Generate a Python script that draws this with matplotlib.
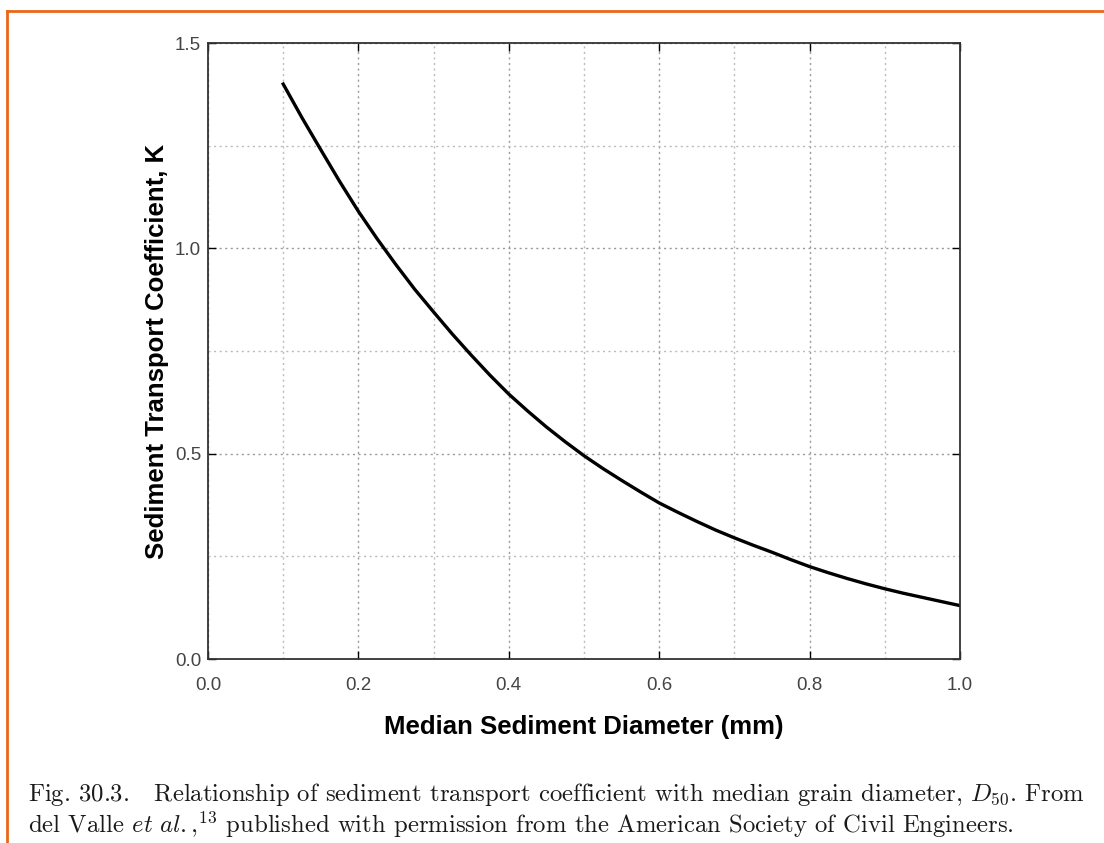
import matplotlib.pyplot as plt
from matplotlib.lines import Line2D
import numpy as np

# values
diameter = [0.100, 0.125, 0.150, 0.175, 0.200, 0.225, 0.250, 0.275, 0.300, 0.325,
            0.350, 0.375, 0.400, 0.425, 0.450, 0.475, 0.500, 0.525, 0.550, 0.575,
            0.600, 0.625, 0.650, 0.675, 0.700, 0.725, 0.750, 0.775, 0.800, 0.825,
            0.850, 0.875, 0.900, 0.925, 0.950, 0.975, 1.000]
coef_k = [1.400, 1.318, 1.240, 1.163, 1.090, 1.023, 0.960, 0.900, 0.845, 0.791,
          0.740, 0.691, 0.645, 0.604, 0.565, 0.529, 0.495, 0.464, 0.435, 0.407,
          0.380, 0.357, 0.335, 0.314, 0.295, 0.277, 0.260, 0.242, 0.225, 0.210,
          0.196, 0.183, 0.171, 0.160, 0.150, 0.140, 0.130]

x_ticks = [0.0, 0.2, 0.4, 0.6, 0.8, 1.0]
y_ticks = [0.0, 0.5, 1.0, 1.5]

plt.rcParams['font.family'] = ['Liberation Sans', 'DejaVu Sans']
plt.rcParams['mathtext.fontset'] = 'cm'

fig = plt.figure(figsize=(11.04, 8.43), dpi=100)
a = fig.add_axes([208 / 1104, 1 - 659 / 843, 752 / 1104, 616 / 843])

a.plot(diameter, coef_k, color='black', lw=2.4)
a.set_xlim(0, 1.0)
a.set_ylim(0, 1.5)
a.set_xticks(x_ticks)
a.set_yticks(y_ticks)
a.set_xticks(np.arange(0.1, 1.0, 0.2), minor=True)
a.set_yticks([0.25, 0.75, 1.25], minor=True)
a.xaxis.set_major_formatter(plt.FormatStrFormatter('%.1f'))
a.yaxis.set_major_formatter(plt.FormatStrFormatter('%.1f'))
a.tick_params(which='major', direction='in', length=6, width=1, labelsize=13.5,
              labelcolor='#444444', top=True, right=True)
a.tick_params(axis='x', which='major', pad=13)
a.tick_params(axis='y', which='major', pad=5)
a.tick_params(which='minor', length=0)
a.grid(which='major', color='#999999', linestyle=(0, (1.5, 2.5)), lw=1)
a.grid(which='minor', color='#bbbbbb', linestyle=(0, (1.5, 2.5)), lw=1)
for s in a.spines.values():
    s.set_linewidth(1.3)
    s.set_color('#333333')

a.set_xlabel('Median Sediment Diameter (mm)', fontsize=18.5, fontweight='bold', labelpad=15)
a.set_ylabel('Sediment Transport Coefficient, K', fontsize=18.5, fontweight='bold', labelpad=4)

# orange frame on top and left
fig.add_artist(Line2D([7 / 1104, 7 / 1104], [0, 1 - 11 / 843], color='#e8681a', lw=2,
                      transform=fig.transFigure))
fig.add_artist(Line2D([7 / 1104, 1], [1 - 11 / 843, 1 - 11 / 843], color='#e8681a', lw=2,
                      transform=fig.transFigure))

fig.text(28 / 1104, 1 - 795 / 843,
         r'Fig. 30.3.   Relationship of sediment transport coefficient with median grain diameter, $D_{50}$. From',
         fontsize=17.8, family='cmr10', color='#1a1a1a', va='center')
fig.text(28 / 1104, 1 - 825 / 843,
         r'del Valle $\mathit{et\ al.}$,$^{13}$ published with permission from the American Society of Civil Engineers.',
         fontsize=17.8, family='cmr10', color='#1a1a1a', va='center')

fig.savefig('out.png', dpi=100)
